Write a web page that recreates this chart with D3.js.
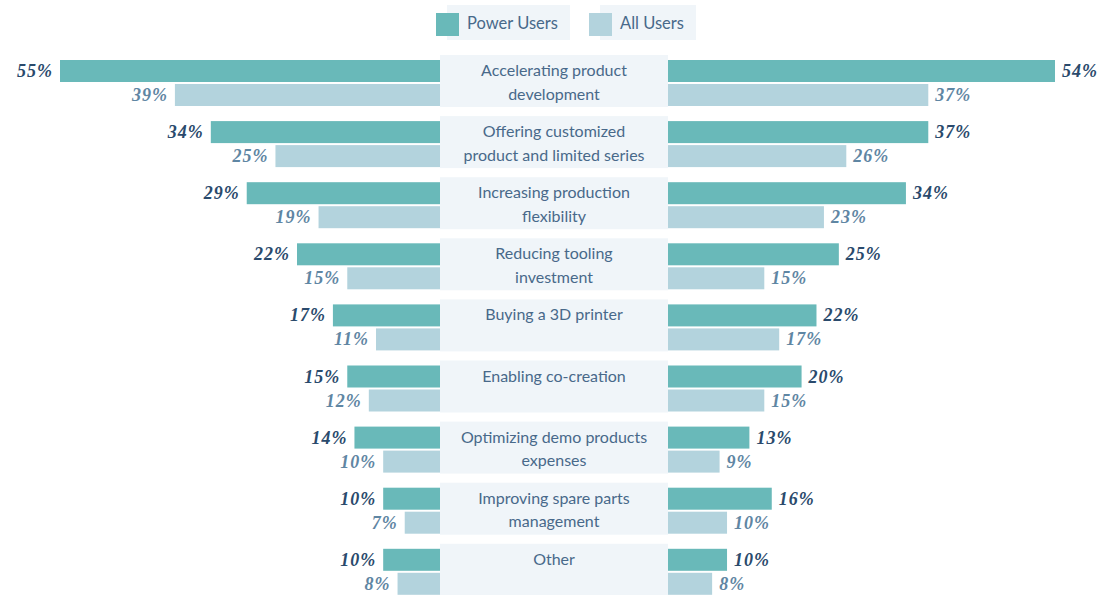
<!DOCTYPE html>
<html>
<head>
<meta charset="utf-8">
<script src="https://cdn.jsdelivr.net/npm/d3@7"></script>
<style>
  html, body { margin: 0; padding: 0; background: #ffffff; }
  svg { display: block; }
</style>
</head>
<body>
<script>
// Categories (line breaks marked with "|")
const categories = [
  "Accelerating product|development",
  "Offering customized|product and limited series",
  "Increasing production|flexibility",
  "Reducing tooling|investment",
  "Buying a 3D printer",
  "Enabling co-creation",
  "Optimizing demo products|expenses",
  "Improving spare parts|management",
  "Other"
];
const seriesNames = ["Power Users", "All Users"];

// Left panel values (%)
const leftPower = [55, 34, 29, 22, 17, 15, 14, 10, 10];
const leftAll   = [39, 25, 19, 15, 11, 12, 10, 7, 8];
// Right panel values (%)
const rightPower = [54, 37, 34, 25, 22, 20, 13, 16, 10];
const rightAll   = [37, 26, 23, 15, 17, 15, 9, 10, 8];

const W = 1107, H = 595;
const colors = { power: "#69b9b9", all: "#b3d3dd" };
const boxFill = "#f0f5f9";
const textColor = "#48698a";
const powerLabel = "#2a4a6c";
const allLabel = "#5f86a3";

const svg = d3.select("body").append("svg")
  .attr("width", W).attr("height", H);

// Rows
const rowStep = 61.1, boxH = 52;
const y = d3.scaleBand()
  .domain(categories)
  .range([55, 55 + categories.length * rowStep - (rowStep - boxH)])
  .paddingInner((rowStep - boxH) / rowStep)
  .paddingOuter(0);

// Horizontal scales: zeros sit under the centre label box
const xL = d3.scaleLinear().domain([0, 55]).range([455, 60]);
const xR = d3.scaleLinear().domain([0, 54]).range([652.5, 1055]);

const barH = 22, powerOff = 5, allOff = 29;

const rows = categories.map((c, i) => ({
  cat: c, lp: leftPower[i], la: leftAll[i], rp: rightPower[i], ra: rightAll[i]
}));

const g = svg.append("g");

// Left bars
g.selectAll("rect.lp").data(rows).join("rect")
  .attr("x", d => xL(d.lp)).attr("y", d => y(d.cat) + powerOff)
  .attr("width", d => xL(0) - xL(d.lp)).attr("height", barH)
  .attr("fill", colors.power);
g.selectAll("rect.la").data(rows).join("rect")
  .attr("x", d => xL(d.la)).attr("y", d => y(d.cat) + allOff)
  .attr("width", d => xL(0) - xL(d.la)).attr("height", barH)
  .attr("fill", colors.all);

// Right bars
g.selectAll("rect.rp").data(rows).join("rect")
  .attr("x", xR(0)).attr("y", d => y(d.cat) + powerOff)
  .attr("width", d => xR(d.rp) - xR(0)).attr("height", barH)
  .attr("fill", colors.power);
g.selectAll("rect.ra").data(rows).join("rect")
  .attr("x", xR(0)).attr("y", d => y(d.cat) + allOff)
  .attr("width", d => xR(d.ra) - xR(0)).attr("height", barH)
  .attr("fill", colors.all);

// Centre label boxes
const boxX0 = 440, boxX1 = 668;
g.selectAll("rect.box").data(rows).join("rect")
  .attr("x", boxX0).attr("y", d => y(d.cat))
  .attr("width", boxX1 - boxX0).attr("height", y.bandwidth())
  .attr("fill", boxFill);

const cx = (boxX0 + boxX1) / 2;
rows.forEach(d => {
  const lines = d.cat.split("|");
  const t = g.append("text")
    .attr("x", cx).attr("text-anchor", "middle")
    .attr("font-family", "Lato, 'Open Sans', sans-serif")
    .attr("font-weight", 400)
    .attr("font-size", 16)
    .attr("fill", textColor);
  lines.forEach((ln, k) => {
    t.append("tspan").attr("x", cx)
      .attr("y", y(d.cat) + 21 + k * 23.5)
      .text(ln);
  });
});

// Value labels
const valFont = "'Liberation Serif', 'Times New Roman', serif";
function label(sel, xf, yOff, anchor, color) {
  sel.attr("x", xf).attr("y", d => y(d.cat) + yOff)
    .attr("text-anchor", anchor)
    .attr("font-family", valFont)
    .attr("font-weight", "bold")
    .attr("font-style", "italic")
    .attr("font-size", 18)
    .attr("letter-spacing", 1)
    .attr("fill", color);
}
g.selectAll("text.lp").data(rows).join("text")
  .call(label, d => xL(d.lp) - 7, powerOff + 17, "end", powerLabel)
  .text(d => d.lp + "%");
g.selectAll("text.la").data(rows).join("text")
  .call(label, d => xL(d.la) - 7, allOff + 17, "end", allLabel)
  .text(d => d.la + "%");
g.selectAll("text.rp").data(rows).join("text")
  .call(label, d => xR(d.rp) + 7, powerOff + 17, "start", powerLabel)
  .text(d => d.rp + "%");
g.selectAll("text.ra").data(rows).join("text")
  .call(label, d => xR(d.ra) + 7, allOff + 17, "start", allLabel)
  .text(d => d.ra + "%");

// Legend
const legend = [
  { name: seriesNames[0], color: colors.power, sx: 436, bx: 447, bw: 123 },
  { name: seriesNames[1], color: colors.all, sx: 589, bx: 600, bw: 96 }
];
const lg = svg.append("g");
legend.forEach(l => {
  lg.append("rect").attr("x", l.bx).attr("y", 5).attr("width", l.bw).attr("height", 35).attr("fill", boxFill);
  lg.append("rect").attr("x", l.sx).attr("y", 13).attr("width", 23).attr("height", 23).attr("fill", l.color);
  lg.append("text").attr("x", l.sx + 31).attr("y", 29)
    .attr("font-family", "Lato, 'Open Sans', sans-serif")
    .attr("font-weight", 400)
    .attr("font-size", 16.5)
    .attr("fill", textColor)
    .text(l.name);
});
</script>
</body>
</html>
